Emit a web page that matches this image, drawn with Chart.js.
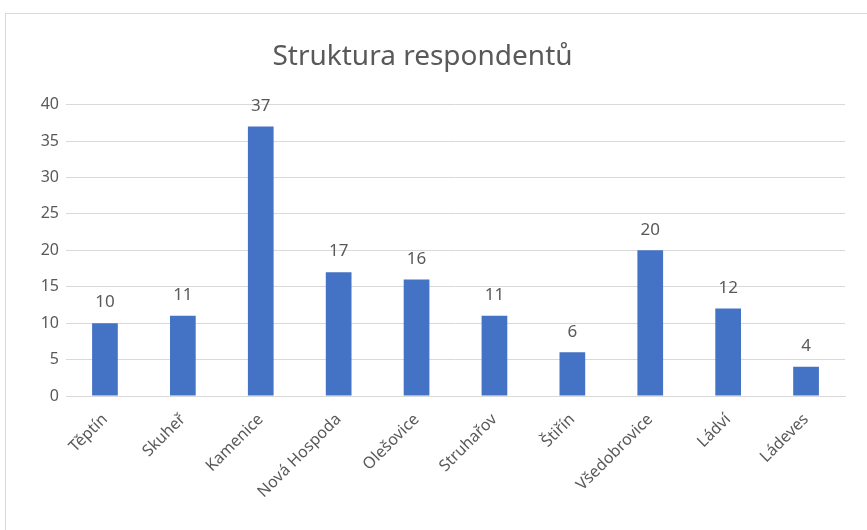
<!DOCTYPE html>
<html><head><meta charset="utf-8">
<script src="https://cdn.jsdelivr.net/npm/chart.js@4"></script>
<style>
html,body{margin:0;padding:0;background:#fff;width:867px;height:530px;overflow:hidden;}
#frame{position:absolute;left:5px;top:13px;width:870px;height:530px;border:1px solid #d9d9d9;box-sizing:border-box;}
#wrap{position:absolute;left:0;top:0;width:867px;height:530px;}
</style></head>
<body>
<div id="frame"></div>
<div id="wrap"><canvas id="c" width="867" height="530"></canvas></div>
<script>
const categories = ["Těptín","Skuheř","Kamenice","Nová Hospoda","Olešovice","Struhařov","Štiřín","Všedobrovice","Ládví","Ládeves"];
const values = [10,11,37,17,16,11,6,20,12,4];
const yTicks = [0,5,10,15,20,25,30,35,40];
const titleText = "Struktura respondentů";

const FONT = "'Noto Sans', 'Open Sans', sans-serif";
const TXT = "#595959";

const labelPlugin = {
  id: 'valueLabels',
  afterDatasetsDraw(chart) {
    const ctx = chart.ctx;
    const meta = chart.getDatasetMeta(0);
    ctx.save();
    ctx.font = "17px " + FONT;
    ctx.fillStyle = TXT;
    ctx.textAlign = "center";
    ctx.textBaseline = "bottom";
    meta.data.forEach((el, i) => {
      ctx.fillText(String(values[i]), el.x, el.y - 12);
    });
    ctx.restore();
  }
};

new Chart(document.getElementById('c'), {
  type: 'bar',
  data: {
    labels: categories,
    datasets: [{
      data: values,
      backgroundColor: '#4472C4',
      borderWidth: 0,
      categoryPercentage: 1,
      barPercentage: 0.33
    }]
  },
  options: {
    responsive: false,
    animation: false,
    layout: { padding: { left: 0, right: 22, top: 0, bottom: 0 } },
    plugins: {
      legend: { display: false },
      tooltip: { enabled: false },
      title: {
        display: true,
        text: titleText,
        color: TXT,
        font: { family: FONT, size: 28, weight: 'normal' },
        padding: { top: 40, bottom: 31 }
      }
    },
    scales: {
      y: {
        min: 0, max: 40,
        afterBuildTicks(scale) { scale.ticks = yTicks.map(v => ({ value: v })); },
        afterFit(scale) { scale.width = 66; },
        ticks: { color: TXT, font: { family: FONT, size: 16 }, padding: 7 },
        grid: { color: '#d9d9d9', drawTicks: false, lineWidth: 1 },
        border: { display: false }
      },
      x: {
        afterFit(scale) { scale.height = 134; },
        ticks: { color: TXT, font: { family: FONT, size: 16 }, minRotation: 45, maxRotation: 45, padding: 14 },
        grid: { display: false, drawTicks: false },
        border: { display: true, color: '#d9d9d9', width: 1 }
      }
    }
  },
  plugins: [labelPlugin]
});
</script>
</body></html>
